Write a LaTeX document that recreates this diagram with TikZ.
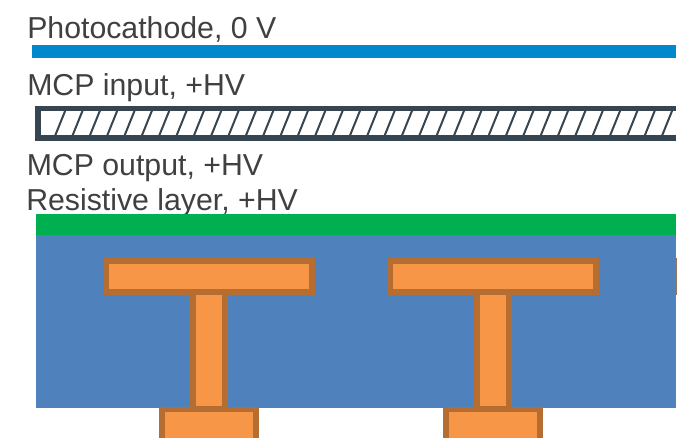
\documentclass[tikz,border=0pt]{standalone}
\usepackage{fontspec}
\setmainfont{Liberation Sans}
\definecolor{cathodeblue}{HTML}{0088CE}
\definecolor{mcpdark}{HTML}{36454F}
\definecolor{layergreen}{HTML}{00B050}
\definecolor{anodeblue}{HTML}{4F81BD}
\definecolor{padorange}{HTML}{F79646}
\definecolor{padedge}{HTML}{B66D31}
\tikzset{
    label/.style={anchor=base west, inner sep=0pt, text=black!75, font=\fontsize{22.7}{25}\selectfont},
    pad/.style={draw=padedge, fill=padorange, line width=4.2pt},
    hatchline/.style={draw=mcpdark, line width=1.5pt},
}
\begin{document}
\begin{tikzpicture}[x=0.75pt, y=-0.75pt]
            \useasboundingbox (0,0) rectangle (684,438);
            \node[label] (P) at (27,38.5) {Photocathode, 0 V};
            \node[label] (I) at (27,95.5) {MCP input, +HV};
            \node[label] (O) at (26.5,175.5) {MCP output, +HV};
            \node[label] (R) at (26,210) {Resistive layer, +HV};
            \fill[cathodeblue] (32,45) rectangle (676,58);
            \foreach \x in {0,...,35} {
                \draw[hatchline] ({55+17.34*\x},136) -- ({65.5+17.34*\x},110);
            }
            \draw[mcpdark, line width=4.2pt] (676,108.5) -- (38,108.5) -- (38,138) -- (676,138);
            \fill[layergreen] (36,214) rectangle (676,235);
            \fill[anodeblue] (36,235) rectangle (676,408);
            \draw[pad] (193,292) rectangle (225,409);
            \draw[pad] (162,438) -- (162,409.5) -- (256,409.5) -- (256,438);
            \draw[pad] (106.5,261) rectangle (312,292);
            \draw[pad] (477,292) rectangle (509,409);
            \draw[pad] (446,438) -- (446,409.5) -- (540,409.5) -- (540,438);
            \draw[pad] (390.5,261) rectangle (596,292);
            \fill[padedge!70!anodeblue] (675,258) rectangle (677,295);
        \end{tikzpicture}
\end{document}
